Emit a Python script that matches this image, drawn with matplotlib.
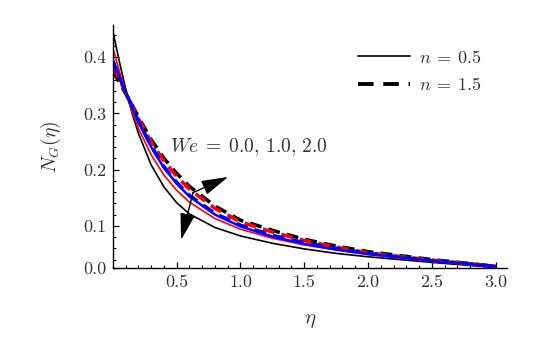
import matplotlib
matplotlib.use("Agg")
from matplotlib import pyplot as plt
from matplotlib.lines import Line2D
from matplotlib.ticker import MultipleLocator, FixedLocator

plt.rcParams['mathtext.fontset'] = 'cm'
plt.rcParams['font.family'] = 'cmr10'
plt.rcParams['axes.formatter.use_mathtext'] = True

# Data
eta = [0, 0.05, 0.1, 0.15, 0.2, 0.3, 0.4, 0.5, 0.6, 0.8, 1.0, 1.25, 1.5, 1.75, 2.0, 2.5, 3.0]

# n = 0.5 (solid), We = 0.0, 1.0, 2.0
ng_n05_we0 = [0.445, 0.392, 0.343, 0.300, 0.264, 0.208, 0.169, 0.141, 0.121, 0.097, 0.082, 0.069,
              0.059, 0.051, 0.045, 0.035, 0.026]
ng_n05_we1 = [0.415, 0.375, 0.337, 0.303, 0.273, 0.226, 0.190, 0.163, 0.142, 0.113, 0.094, 0.078,
              0.066, 0.057, 0.049, 0.037, 0.027]
ng_n05_we2 = [0.395, 0.365, 0.337, 0.310, 0.284, 0.240, 0.203, 0.175, 0.152, 0.120, 0.099, 0.081,
              0.068, 0.058, 0.050, 0.038, 0.028]

# n = 1.5 (dashed), We = 0.0, 1.0, 2.0
ng_n15_we0 = [0.375, 0.355, 0.335, 0.315, 0.293, 0.253, 0.220, 0.193, 0.170, 0.135, 0.110, 0.092,
              0.076, 0.064, 0.054, 0.040, 0.028]
ng_n15_we1 = [0.383, 0.360, 0.337, 0.313, 0.290, 0.249, 0.215, 0.188, 0.165, 0.131, 0.107, 0.089,
              0.074, 0.062, 0.052, 0.039, 0.028]
ng_n15_we2 = [0.392, 0.365, 0.338, 0.311, 0.286, 0.242, 0.205, 0.177, 0.154, 0.122, 0.101, 0.083,
              0.070, 0.060, 0.051, 0.038, 0.028]

we_colors = ['black', 'red', 'blue']
legend_labels = [r'$n\:=\:0.5$', r'$n\:=\:1.5$']
annot_text = r'$We\;=\;0.0,\, 1.0,\, 2.0$'
xtick_vals = [0.5, 1.0, 1.5, 2.0, 2.5, 3.0]
ytick_vals = [0.1, 0.2, 0.3, 0.4]

y_bottom = 0.025  # where the horizontal axis sits
fig = plt.figure(figsize=(5.37, 3.37), dpi=100)
ax = fig.add_axes([0.2104, 0.2047, 0.7337, 0.721])

# dashed curves first (underneath)
for ys, c in zip([ng_n15_we0, ng_n15_we1, ng_n15_we2], we_colors):
    ax.plot(eta, ys, color=c, lw=2.6, dashes=(3.3, 2.0))
for ys, c in zip([ng_n05_we0, ng_n05_we1, ng_n05_we2], we_colors):
    ax.plot(eta, ys, color=c, lw=1.2 if c != 'blue' else 1.8)

ax.set_xlim(0, 3.09)
ax.set_ylim(y_bottom, 0.457)

for s in ['top', 'right']:
    ax.spines[s].set_visible(False)
for s in ['left', 'bottom']:
    ax.spines[s].set_linewidth(1.0)

ax.xaxis.set_major_locator(FixedLocator(xtick_vals))
ax.set_xticklabels(['%.1f' % v for v in xtick_vals])
ax.xaxis.set_minor_locator(MultipleLocator(0.1))
ax.yaxis.set_major_locator(FixedLocator([y_bottom] + ytick_vals))
ax.set_yticklabels(['0.0'] + ['%.1f' % v for v in ytick_vals])
ax.yaxis.set_minor_locator(FixedLocator([0.04, 0.06, 0.08, 0.12, 0.14, 0.16, 0.18, 0.22, 0.24,
                                         0.26, 0.28, 0.32, 0.34, 0.36, 0.38, 0.42, 0.44]))
ax.tick_params(which='major', direction='in', length=4, width=0.9, labelsize=13,
               labelcolor='#333333', pad=5)
ax.tick_params(which='minor', direction='in', length=2.5, width=0.8)

ax.set_xlabel(r'$\eta$', fontsize=15, labelpad=16, color='#333333')
ax.set_ylabel(r'$N_G(\eta)$', fontsize=14, labelpad=14, color='#333333')

ax.text(0.45, 0.24, annot_text, fontsize=14, ha='left', va='center', color='#333333')

arrow_style = dict(arrowstyle='-|>,head_length=0.83,head_width=0.23', mutation_scale=20,
                   color='black', lw=1.0, shrinkA=0, shrinkB=0)
ax.annotate('', xy=(0.903, 0.187), xytext=(0.628, 0.159), arrowprops=arrow_style)
ax.annotate('', xy=(0.534, 0.075), xytext=(0.628, 0.159), arrowprops=arrow_style)

handles = [Line2D([], [], color='black', lw=1.2),
           Line2D([], [], color='black', lw=2.8, dashes=(4, 2.5))]
ax.legend(handles, legend_labels, loc='upper left', bbox_to_anchor=(0.58, 0.97),
          frameon=False, fontsize=13, handlelength=2.9, labelspacing=0.6,
          handletextpad=0.5, labelcolor='#333333')

fig.savefig('out.png', dpi=100)
